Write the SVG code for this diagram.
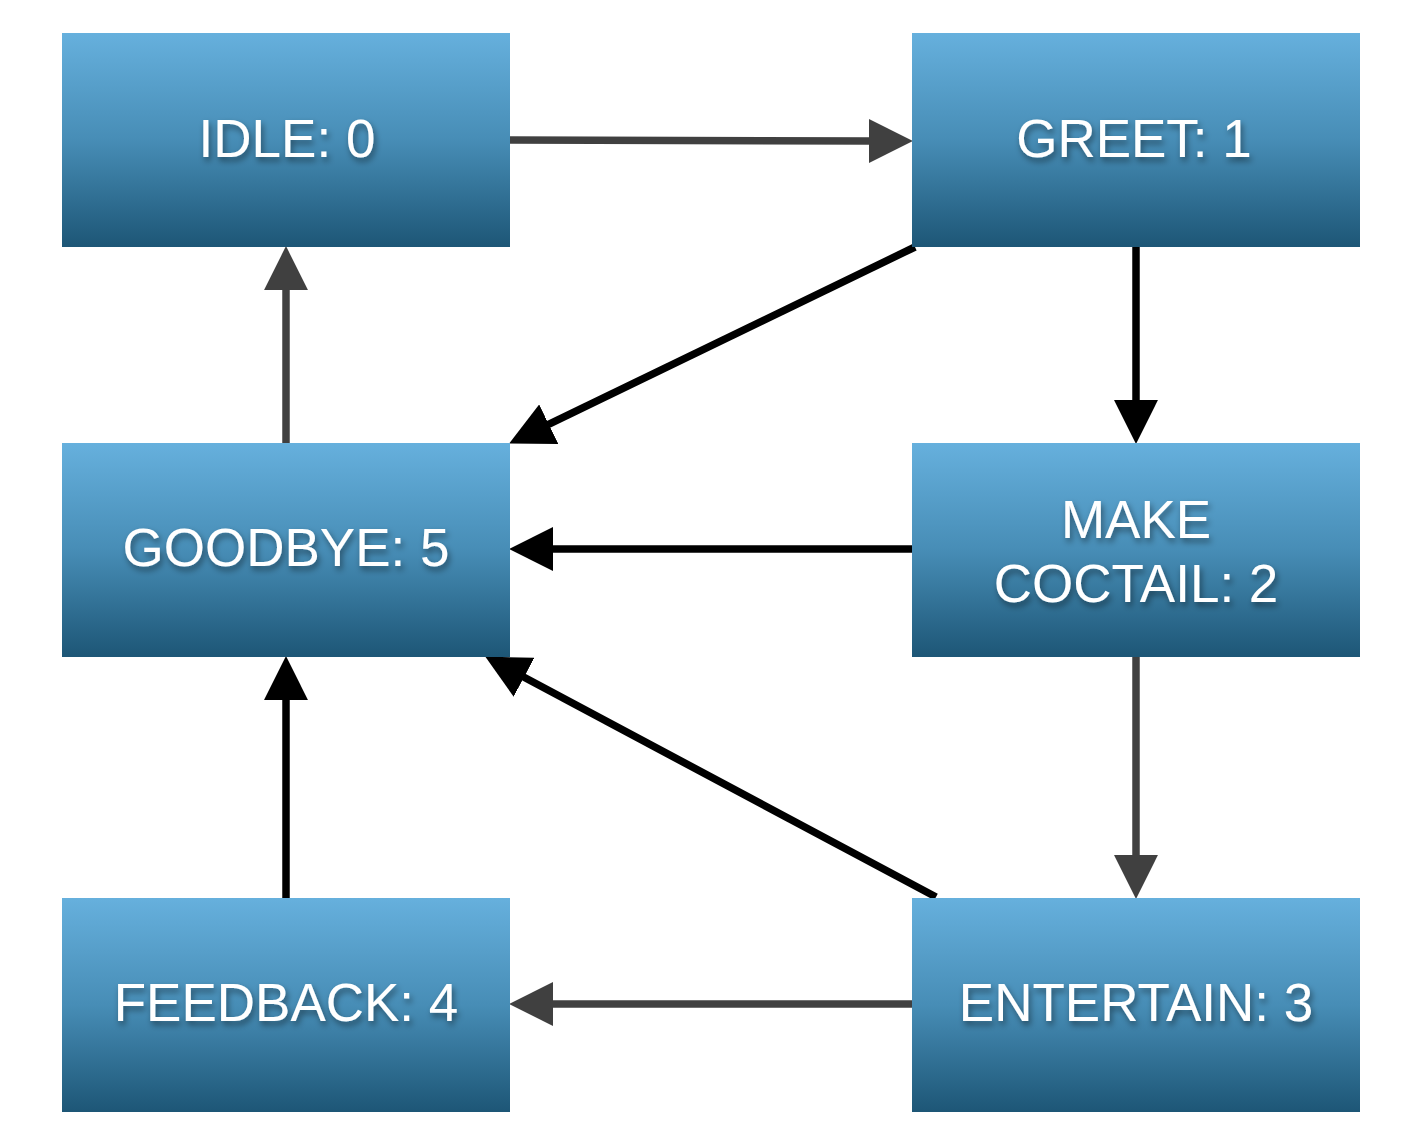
<svg xmlns="http://www.w3.org/2000/svg" width="1424" height="1148" viewBox="0 0 1424 1148">
<defs>
<linearGradient id="boxg" x1="0" y1="0" x2="0" y2="1">
<stop offset="0" stop-color="#66b0dd"/>
<stop offset="0.5" stop-color="#478db6"/>
<stop offset="1" stop-color="#1d5676"/>
</linearGradient>
<filter id="tsh" x="-20%" y="-40%" width="140%" height="180%">
<feDropShadow dx="2" dy="4" stdDeviation="3" flood-color="#000" flood-opacity="0.45"/>
</filter>
<marker id="ahb" markerUnits="userSpaceOnUse" markerWidth="44" markerHeight="44" refX="3" refY="21.5" orient="auto" viewBox="0 0 43 43">
<path d="M0,0 L43,21.5 L0,43 z" fill="#000"/>
</marker>
<marker id="ahg" markerUnits="userSpaceOnUse" markerWidth="44" markerHeight="44" refX="3" refY="21.5" orient="auto" viewBox="0 0 43 43">
<path d="M0,0 L43,21.5 L0,43 z" fill="#404040"/>
</marker>
</defs>
<style>
.box{fill:url(#boxg);}
.lbl{font-family:"Liberation Sans",Arial,Helvetica,sans-serif;font-size:53px;fill:#fff;text-anchor:middle;filter:url(#tsh);}
.cb{stroke:#000;stroke-width:7.5;fill:none;marker-end:url(#ahb);}
.cg{stroke:#404040;stroke-width:7.5;fill:none;marker-end:url(#ahg);}
</style>
<rect width="1424" height="1148" fill="#fff"/>
<g id="connectors">
<line class="cg" x1="510" y1="140" x2="872" y2="141"/>
<line class="cb" x1="915" y1="247" x2="546" y2="425.6"/>
<line class="cb" x1="1136" y1="247" x2="1136" y2="403"/>
<line class="cb" x1="912" y1="549" x2="550" y2="549"/>
<line class="cg" x1="286" y1="443" x2="286" y2="287"/>
<line class="cb" x1="936" y1="897" x2="521.3" y2="675.8"/>
<line class="cg" x1="1136" y1="657" x2="1136" y2="858"/>
<line class="cg" x1="912" y1="1004" x2="550" y2="1004"/>
<line class="cb" x1="286" y1="898" x2="286" y2="697"/>
</g>
<g id="idle">
<rect class="box" x="62" y="33" width="448" height="214"/>
<text class="lbl" x="287" y="157">IDLE: 0</text>
</g>
<g id="greet">
<rect class="box" x="912" y="33" width="448" height="214"/>
<text class="lbl" x="1134" y="157">GREET: 1</text>
</g>
<g id="goodbye">
<rect class="box" x="62" y="443" width="448" height="214"/>
<text class="lbl" x="286" y="566">GOODBYE: 5</text>
</g>
<g id="make_coctail">
<rect class="box" x="912" y="443" width="448" height="214"/>
<text class="lbl" x="1136" y="538">MAKE</text>
<text class="lbl" x="1136" y="602">COCTAIL: 2</text>
</g>
<g id="feedback">
<rect class="box" x="62" y="898" width="448" height="214"/>
<text class="lbl" x="286" y="1021">FEEDBACK: 4</text>
</g>
<g id="entertain">
<rect class="box" x="912" y="898" width="448" height="214"/>
<text class="lbl" x="1136" y="1021">ENTERTAIN: 3</text>
</g>
</svg>
